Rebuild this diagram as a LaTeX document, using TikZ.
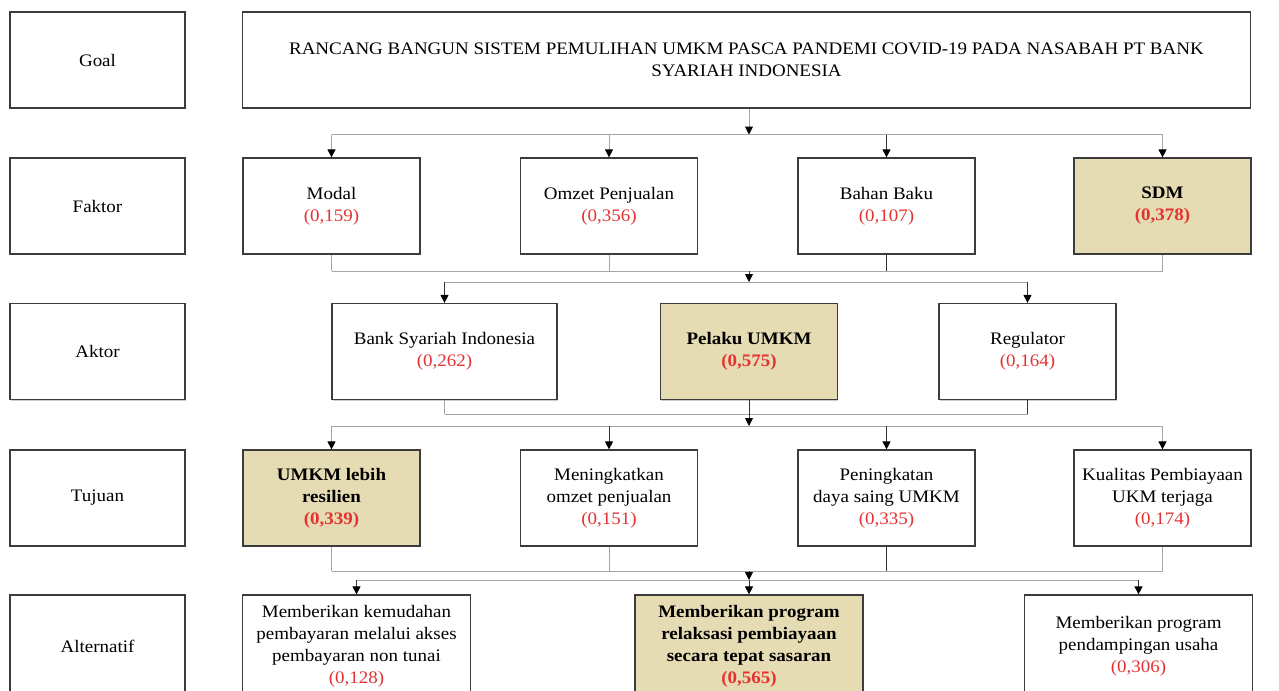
\documentclass[tikz,border=0pt]{standalone}
\usepackage{fontspec}
\setmainfont{Liberation Serif}[FakeStretch=1.08]
\usetikzlibrary{arrows.meta,shadows}
\definecolor{pick}{RGB}{230,220,180}
\definecolor{weight}{RGB}{228,50,50}
\definecolor{frame}{RGB}{60,60,60}
\definecolor{wire}{RGB}{165,165,165}
\newcommand{\wgt}[1]{\textcolor{weight}{(#1)}}

\begin{document}
\begin{tikzpicture}[>={Triangle[width=4.5pt,length=4.5pt,color=black]},line width=0.5pt]
 	\fontsize{10}{12.5}\selectfont
 	\def \rowgoal{-1.2cm}
 	\def \rowfaktor{-4.12cm}
 	\def \rowaktor{-7.03cm}
 	\def \rowtujuan{-9.96cm}
 	\def \rowalt{-12.92cm}
 	% bus levels
 	\def \busa{-2.69cm}
 	\def \busb{-5.42cm}
 	\def \busc{-5.64cm}
 	\def \busd{-8.28cm}
 	\def \buse{-8.52cm}
 	\def \busf{-11.42cm}
 	\def \busg{-11.6cm}

 	\path[use as bounding box,clip] (0,0) rectangle (25.58cm,-13.8cm);

 	\tikzstyle{box}=[draw=frame,line width=0.7pt,fill=white,minimum height=1.92cm,align=center,inner sep=1pt,drop shadow={shadow xshift=0.3pt,shadow yshift=-0.7pt,fill=black!40}]
 	\tikzstyle{lbl}=[box,minimum width=3.5cm]
 	\tikzstyle{crit}=[box,minimum width=3.54cm]
 	\tikzstyle{actor}=[box,minimum width=4.5cm]
 	\tikzstyle{alt}=[box,minimum width=4.56cm,minimum height=2.04cm]
 	\tikzstyle{best}=[fill=pick,font=\bfseries]
 	\tikzstyle{link}=[draw=wire,-]
 	\tikzstyle{dark link}=[draw=black!80,-]
 	\tikzstyle{arr}=[draw=wire,->]
 	\tikzstyle{dark arr}=[draw=black!80,->]

 	% level labels
 	\node[lbl] (goal-lbl) 	at (1.95cm,\rowgoal)	{Goal};
 	\node[lbl] (faktor-lbl) 	at (1.95cm,\rowfaktor)	{Faktor};
 	\node[lbl] (aktor-lbl) 	at (1.95cm,\rowaktor)	{Aktor};
 	\node[lbl] (tujuan-lbl) 	at (1.95cm,\rowtujuan)	{Tujuan};
 	\node[lbl,minimum height=2.04cm] (alt-lbl) 	at (1.95cm,\rowalt)	{Alternatif};

 	\node[box,minimum width=20.16cm] (goal) at (14.93cm,\rowgoal) {RANCANG BANGUN SISTEM PEMULIHAN UMKM PASCA PANDEMI COVID-19 PADA NASABAH PT BANK\\ SYARIAH INDONESIA};

 	\node[crit] 	(modal)	at (6.63cm,\rowfaktor)	{Modal\\ \wgt{0,159}};
 	\node[crit] 	(omzet)	at (12.18cm,\rowfaktor)	{Omzet Penjualan\\ \wgt{0,356}};
 	\node[crit] 	(bahan)	at (17.73cm,\rowfaktor)	{Bahan Baku\\ \wgt{0,107}};
 	\node[crit,best] 	(sdm)	at (23.25cm,\rowfaktor)	{SDM\\ \wgt{0,378}};

 	\node[actor] 	(bsi)	at (8.89cm,\rowaktor)	{Bank Syariah Indonesia\\ \wgt{0,262}};
 	\node[crit,best] 	(pelaku)	at (14.98cm,\rowaktor)	{Pelaku UMKM\\ \wgt{0,575}};
 	\node[crit] 	(regulator)	at (20.55cm,\rowaktor)	{Regulator\\ \wgt{0,164}};

 	\node[crit,best] 	(resilien)	at (6.63cm,\rowtujuan)	{UMKM lebih\\ resilien\\ \wgt{0,339}};
 	\node[crit] 	(omzetnaik)	at (12.18cm,\rowtujuan)	{Meningkatkan\\ omzet penjualan\\ \wgt{0,151}};
 	\node[crit] 	(dayasaing)	at (17.73cm,\rowtujuan)	{Peningkatan\\ daya saing UMKM\\ \wgt{0,335}};
 	\node[crit] 	(kualitas)	at (23.25cm,\rowtujuan)	{Kualitas Pembiayaan\\ UKM terjaga\\ \wgt{0,174}};

 	\node[alt] 	(nontunai)	at (7.13cm,\rowalt)	{Memberikan kemudahan\\ pembayaran melalui akses\\ pembayaran non tunai\\ \wgt{0,128}};
 	\node[alt,best] 	(relaksasi)	at (14.98cm,\rowalt)	{Memberikan program\\ relaksasi pembiayaan\\ secara tepat sasaran\\ \wgt{0,565}};
 	\node[alt] 	(pendampingan)	at (22.77cm,\rowalt)	{Memberikan program\\ pendampingan usaha\\ \wgt{0,306}};

 	% junctions
 	\coordinate (gbus) at (14.98cm,\busa);
 	\coordinate (fbus) at (14.98cm,\busb);
 	\coordinate (abus) at (14.98cm,\busc);
 	\coordinate (dbus) at (14.98cm,\busd);
 	\coordinate (ebus) at (14.98cm,\buse);
 	\coordinate (tbus) at (14.98cm,\busf);
 	\coordinate (xbus) at (14.98cm,\busg);

 	\path
 		(goal.south -| gbus)	edge[arr]	(gbus)
 		(modal |- gbus)	edge[link]	(sdm |- gbus)
 		(modal |- gbus)	edge[arr]	(modal)
 		(omzet |- gbus)	edge[arr]	(omzet)
 		(bahan |- gbus)	edge[dark arr]	(bahan)
 		(sdm |- gbus)	edge[arr]	(sdm)
 		%
 		(modal)	edge[link]	(modal |- fbus)
 		(omzet)	edge[link]	(omzet |- fbus)
 		(bahan)	edge[dark link]	(bahan |- fbus)
 		(sdm)	edge[link]	(sdm |- fbus)
 		(modal |- fbus)	edge[link]	(sdm |- fbus)
 		(fbus)	edge[dark arr]	(abus)
 		(bsi |- abus)	edge[link]	(regulator |- abus)
 		(bsi |- abus)	edge[dark arr]	(bsi)
 		(regulator |- abus)	edge[dark arr]	(regulator)
 		%
 		(bsi)	edge[link]	(bsi |- dbus)
 		(pelaku)	edge[dark link]	(pelaku |- dbus)
 		(regulator)	edge[dark link]	(regulator |- dbus)
 		(bsi |- dbus)	edge[link]	(regulator |- dbus)
 		(dbus)	edge[dark arr]	(ebus)
 		(resilien |- ebus)	edge[link]	(kualitas |- ebus)
 		(resilien |- ebus)	edge[arr]	(resilien)
 		(omzetnaik |- ebus)	edge[dark arr]	(omzetnaik)
 		(dayasaing |- ebus)	edge[dark arr]	(dayasaing)
 		(kualitas |- ebus)	edge[arr]	(kualitas)
 		%
 		(resilien)	edge[link]	(resilien |- tbus)
 		(omzetnaik)	edge[link]	(omzetnaik |- tbus)
 		(dayasaing)	edge[dark link]	(dayasaing |- tbus)
 		(kualitas)	edge[link]	(kualitas |- tbus)
 		(resilien |- tbus)	edge[link]	(kualitas |- tbus)
 		(tbus)	edge[dark arr]	(xbus)
 		(nontunai |- xbus)	edge[link]	(pendampingan |- xbus)
 		(nontunai |- xbus)	edge[dark arr]	(nontunai)
 		(relaksasi |- xbus)	edge[dark arr]	(relaksasi)
 		(pendampingan |- xbus)	edge[dark arr]	(pendampingan);
\end{tikzpicture}
\end{document}
